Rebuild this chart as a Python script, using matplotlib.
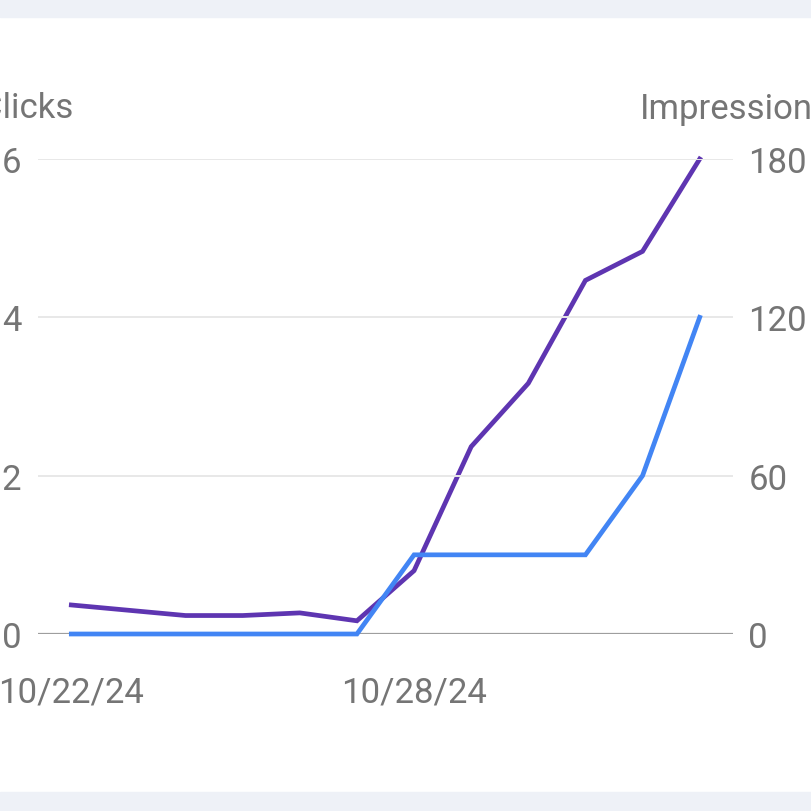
import matplotlib
matplotlib.use("Agg")
import matplotlib.pyplot as plt
import matplotlib.dates as mdates
import numpy as np
from matplotlib.patches import Rectangle

'''clicks and impressions per day, two y axes'''

days = np.arange(np.datetime64('2024-10-22'), np.datetime64('2024-11-03'))
clicks = [0, 0, 0, 0, 0, 0, 1, 1, 1, 1, 2, 4]
impressions = [11, 9, 7, 7, 8, 5, 24, 71, 95, 134, 145, 180]
xticks = [np.datetime64('2024-10-22'), np.datetime64('2024-10-28')]
clicks_ticks = [0, 2, 4, 6]
impr_ticks = [0, 60, 120, 180]

plt.rcParams['font.family'] = ['Roboto', 'DejaVu Sans']
grey = '#757575'
fs = 25

fig = plt.figure(figsize=(8.12, 8.12), dpi=100, facecolor='white')
# pale bands top and bottom
fig.patches.append(Rectangle((0, 1 - 18 / 812), 1, 18 / 812, transform=fig.transFigure,
                             color='#eef1f7', zorder=0))
fig.patches.append(Rectangle((0, 0), 1, 19 / 812, transform=fig.transFigure,
                             color='#eef1f7', zorder=0))

ax = fig.add_axes([38 / 812, 1 - 635 / 812, (733 - 38) / 812, (635 - 160) / 812])
ax2 = ax.twinx()

ax.set_ylim(0, 6)
ax2.set_ylim(0, 180)
ax.set_xlim(days[0] - np.timedelta64(14, 'h'), days[-1] + np.timedelta64(14, 'h'))

for y in clicks_ticks[1:]:
    ax.axhline(y, color='#e8e8e8', lw=1.4, zorder=0)
ax.axhline(0, color='#9e9e9e', lw=1.6, zorder=1)

ax2.plot(days, impressions, color='#5e35b1', lw=3.4, clip_on=False, zorder=3,
         solid_joinstyle='miter')
ax.plot(days, clicks, color='#4285f4', lw=3.4, clip_on=False, zorder=4,
        solid_joinstyle='miter')
ax.set_zorder(ax2.get_zorder() + 1)
ax.patch.set_visible(False)

for a in (ax, ax2):
    for s in a.spines.values():
        s.set_visible(False)
    a.tick_params(length=0, labelsize=fs, colors=grey)

ax.set_yticks(clicks_ticks)
ax.set_yticklabels([str(v) for v in clicks_ticks])
ax.tick_params(axis='y', pad=12)
ax2.set_yticks(impr_ticks)
ax2.set_yticklabels([str(v) for v in impr_ticks])
ax2.tick_params(axis='y', pad=11)

ax.set_xticks(xticks)
ax.xaxis.set_major_formatter(mdates.DateFormatter('%m/%d/%y'))
ax.tick_params(axis='x', pad=30)

fig.text(73 / 812, 1 - 109 / 812, 'Clicks', fontsize=fs, color=grey, ha='right', va='center')
fig.text(640 / 812, 1 - 109 / 812, 'Impressions', fontsize=fs, color=grey, ha='left', va='center')

fig.savefig('out.png', dpi=100, facecolor='white')
